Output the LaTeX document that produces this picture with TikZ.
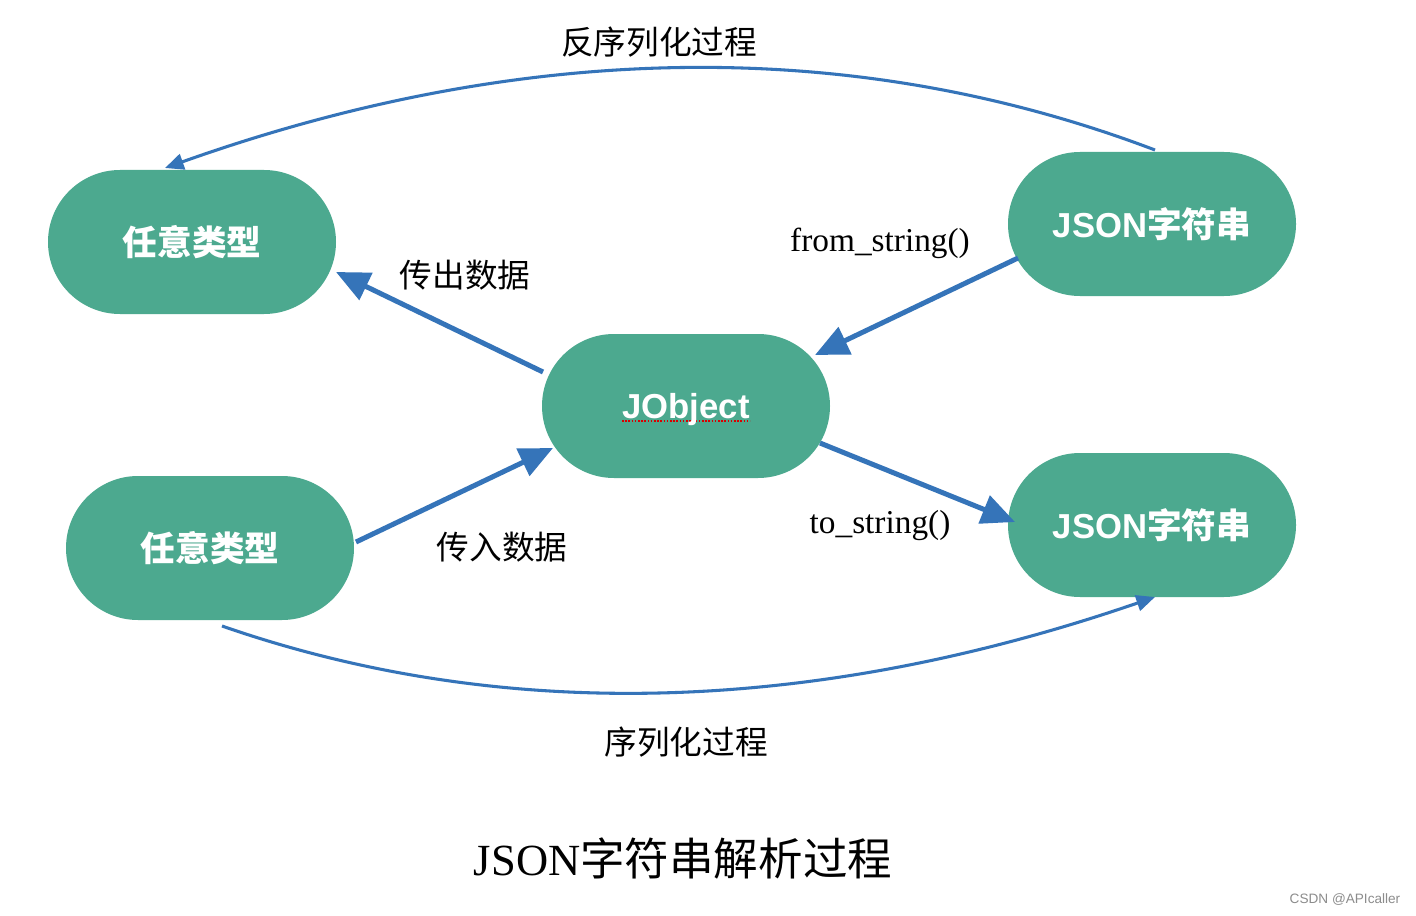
\documentclass[tikz,border=0pt]{standalone}
\usepackage{fontspec}
\setmainfont{Liberation Serif}
\newfontfamily\cjk{Noto Sans CJK SC}
\newfontfamily\hv{Liberation Sans}
\usetikzlibrary{arrows.meta,calc}
\definecolor{nodegreen}{HTML}{4CA98F}
\definecolor{arrowblue}{HTML}{3574B9}
\tikzset{
  stadium/.style={fill=nodegreen, draw=none, rounded corners=54pt, minimum width=216pt, minimum height=108pt, inner sep=0pt, text=white, font=\bfseries\fontsize{26}{30}\selectfont},
  bigarrow/.style={draw=arrowblue, line width=3.75pt, -{Triangle[length=25pt,width=22pt]}},
  arcarrow/.style={draw=arrowblue, line width=2.3pt, -{Triangle[length=14pt,width=12pt]}},
  lbl/.style={font=\cjk\fontsize{24.5}{28}\selectfont, inner sep=0pt},
  code/.style={font=\fontsize{25}{28}\selectfont, inner sep=0pt},
  spellmark/.style={path picture={\draw[red!85!black, dash pattern=on 1.2pt off 1.2pt, line width=1.5pt] ($(path picture bounding box.center)+(-64,15)$) -- ($(path picture bounding box.center)+(64,15)$);}},
}
\begin{document}
\begin{tikzpicture}[x=0.75pt,y=-0.75pt]
\useasboundingbox[fill=white] (0,0) rectangle (1416,916);

\node[stadium] (any1) at (192,242) {\cjk 任意类型};
\node[stadium] (json1) at (1152,224) {{\hv JSON}{\cjk 字符串}};
\node[stadium, text depth=0pt, spellmark] (jobj) at (686,406) {\hv JObject};
\node[stadium] (any2) at (210,548) {\cjk 任意类型};
\node[stadium] (json2) at (1152,525) {{\hv JSON}{\cjk 字符串}};

\draw[bigarrow] ($(jobj.center)+(-143,-34)$) -- ($(any1.center)+(144,30)$);
\draw[bigarrow] ($(json1.center)+(-134,34)$) -- ($(jobj.center)+(129,-51)$);
\draw[bigarrow] ($(any2.center)+(146,-6)$) -- ($(jobj.center)+(-133,42)$);
\draw[bigarrow] ($(jobj.center)+(134,37)$) -- ($(json2.center)+(-137,-3)$);

\draw[arcarrow] ($(json1.center)+(3,-74)$) .. controls (852,35) and (522,41) .. ($(any1.center)+(-27,-74)$);
\draw[arcarrow] ($(any2.center)+(12,78)$) .. controls (504,724) and (815,714) .. ($(json2.center)+(3,72)$);

\node[lbl] (l1) at (659,42) {反序列化过程};
\node[lbl] (l2) at (465,275) {传出数据};
\node[code] (l3) at (880,243) {from\_string()};
\node[lbl] (l4) at (502,547) {传入数据};
\node[code] (l5) at (880,526) {to\_string()};
\node[lbl] (l6) at (686,742) {序列化过程};
\node[inner sep=0pt, font=\fontsize{33.4}{38}\selectfont] (title) at (683,858) {JSON{\cjk 字符串解析过程}};
\node[inner sep=0pt, text=black!45, font=\hv\fontsize{10.2}{12}\selectfont] (wm) at (1345,900) {CSDN @APIcaller};
\end{tikzpicture}
\end{document}
